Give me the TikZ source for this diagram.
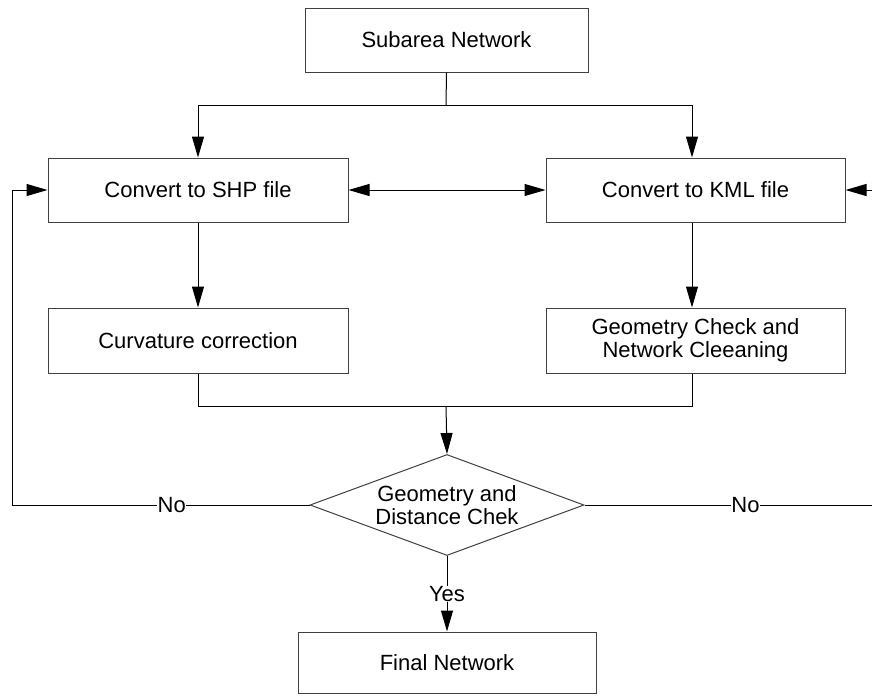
\documentclass[tikz,border=0pt]{standalone}
\usepackage{fontspec}
\setmainfont{Liberation Sans}
\usetikzlibrary{arrows.meta,shapes.geometric}
\tikzset{
  box/.style={draw=black!75, line width=1pt, rectangle, inner sep=0pt, align=center},
  arr/.style={-{Triangle[length=21pt,width=12pt]}},
  arrtwo/.style={{Triangle[length=21pt,width=12pt]}-{Triangle[length=21pt,width=12pt]}},
  lbl/.style={fill=white, inner sep=0.5pt},
}
\begin{document}
\begin{tikzpicture}[x=1pt,y=-1pt, line width=1pt, font=\fontsize{22}{23}\selectfont]
\useasboundingbox (0,0) rectangle (872,696);
\node[box, minimum width=283pt, minimum height=64pt] (sub) at (446.5,40) {Subarea Network};
\node[box, minimum width=300pt, minimum height=64pt] (shp) at (198,190) {Convert to SHP file};
\node[box, minimum width=299pt, minimum height=64pt] (kml) at (695.5,190) {Convert to KML file};
\node[box, minimum width=300pt, minimum height=65pt] (curv) at (198,340.5) {Curvature correction};
\node[box, minimum width=299pt, minimum height=65pt] (geo) at (695.5,340.5) {Geometry Check and\\Network Cleeaning};
\node[draw=black!75, diamond, inner sep=0pt, minimum width=274pt, minimum height=101pt, aspect=2.71] (dia) at (447,505) {};
\node[align=center] (dialbl) at (dia) {Geometry and\\Distance Chek};
\node[box, minimum width=298pt, minimum height=61pt] (final) at (447,662.5) {Final Network};

\coordinate (jt) at (446,105);
\coordinate (jl) at (198,105);
\coordinate (jr) at (692,105);
\coordinate (bl) at (198,406);
\coordinate (bm) at (446,406);
\coordinate (br) at (692,406);
\coordinate (lc) at (12,505);
\coordinate (rc) at (880,505);

\draw (sub.south) -- (jt);
\draw (jl) -- (jr);
\draw[arr] (jl) -- (shp.north);
\draw[arr] (jr) -- (jr |- kml.north);
\draw[arrtwo] (shp.east) -- (kml.west);
\draw[arr] (shp.south) -- (curv.north);
\draw[arr] (jr |- kml.south) -- (jr |- geo.north);
\draw (curv.south) -- (bl) -- (br) -- (jr |- geo.south);
\draw[arr] (bm) -- (dia.north);
\draw[arr] (dia.west) -- node[lbl, pos=0.463] (nol) {No} (lc) |- (shp.west);
\draw[arr] (dia.east) -- node[lbl, pos=0.545] (nor) {No} (rc) |- (kml.east);
\draw[arr] (dia.south) -- node[lbl, pos=0.5] (yes) {Yes} (final.north);
\end{tikzpicture}
\end{document}
